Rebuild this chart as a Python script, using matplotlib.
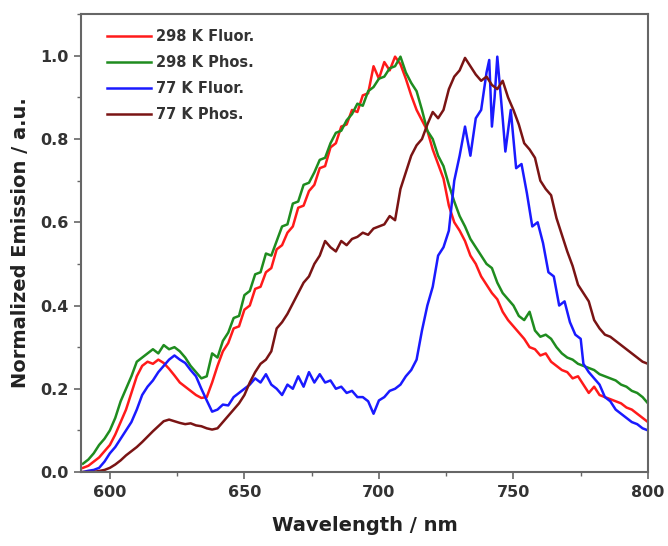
import numpy as np
from matplotlib import pyplot as plt
from matplotlib.ticker import MultipleLocator

# wavelength (nm) and normalized emission
wl_red = [590, 592, 594, 596, 598, 600, 602, 604, 606, 608, 610, 612, 614, 616, 618, 620,
          622, 624, 626, 628, 630, 632, 634, 636, 638, 640, 642, 644, 646, 648, 650, 652,
          654, 656, 658, 660, 662, 664, 666, 668, 670, 672, 674, 676, 678, 680, 682, 684,
          686, 688, 690, 692, 694, 696, 698, 700, 702, 704, 706, 708, 710, 712, 714, 716,
          718, 720, 722, 724, 726, 728, 730, 732, 734, 736, 738, 740, 742, 744, 746, 748,
          750, 752, 754, 756, 758, 760, 762, 764, 766, 768, 770, 772, 774, 776, 778, 780,
          782, 784, 786, 788, 790, 792, 794, 796, 798, 800]
fluor_298 = [0.010, 0.015, 0.025, 0.035, 0.050, 0.065, 0.090, 0.120, 0.150, 0.190, 0.230, 0.255,
             0.265, 0.260, 0.270, 0.262, 0.248, 0.232, 0.215, 0.205, 0.195, 0.185, 0.178, 0.180,
             0.215, 0.255, 0.290, 0.310, 0.345, 0.350, 0.390, 0.400, 0.440, 0.445, 0.480, 0.490,
             0.535, 0.545, 0.575, 0.590, 0.635, 0.640, 0.675, 0.690, 0.730, 0.735, 0.780, 0.790,
             0.830, 0.835, 0.870, 0.865, 0.905, 0.910, 0.975, 0.945, 0.985, 0.965, 0.998, 0.980,
             0.945, 0.905, 0.870, 0.845, 0.820, 0.775, 0.740, 0.705, 0.640, 0.600, 0.580, 0.555,
             0.520, 0.500, 0.470, 0.450, 0.430, 0.415, 0.385, 0.365, 0.350, 0.335, 0.320, 0.300,
             0.295, 0.280, 0.285, 0.265, 0.255, 0.245, 0.240, 0.225, 0.230, 0.210, 0.190, 0.205,
             0.185, 0.180, 0.175, 0.170, 0.165, 0.155, 0.150, 0.140, 0.130, 0.120]

wl_green = wl_red
phos_298 = [0.020, 0.030, 0.045, 0.065, 0.080, 0.100, 0.130, 0.170, 0.200, 0.230, 0.265, 0.275,
            0.285, 0.295, 0.285, 0.305, 0.295, 0.300, 0.290, 0.275, 0.255, 0.240, 0.225, 0.230,
            0.285, 0.275, 0.315, 0.335, 0.370, 0.375, 0.425, 0.435, 0.475, 0.480, 0.525, 0.520,
            0.555, 0.590, 0.595, 0.645, 0.650, 0.690, 0.695, 0.720, 0.750, 0.755, 0.790, 0.815,
            0.820, 0.845, 0.860, 0.885, 0.880, 0.915, 0.925, 0.945, 0.950, 0.970, 0.975, 0.998,
            0.960, 0.935, 0.915, 0.870, 0.820, 0.800, 0.760, 0.735, 0.690, 0.650, 0.615, 0.590,
            0.560, 0.540, 0.520, 0.500, 0.490, 0.455, 0.430, 0.415, 0.400, 0.375, 0.365, 0.385,
            0.340, 0.325, 0.330, 0.320, 0.300, 0.285, 0.275, 0.270, 0.260, 0.255, 0.250, 0.245,
            0.235, 0.230, 0.225, 0.220, 0.210, 0.205, 0.195, 0.190, 0.180, 0.165]

wl_blue = [590, 592, 594, 596, 598, 600, 602, 604, 606, 608, 610, 612, 614, 616, 618, 620,
           622, 624, 626, 628, 630, 632, 634, 636, 638, 640, 642, 644, 646, 648, 650, 652,
           654, 656, 658, 660, 662, 664, 666, 668, 670, 672, 674, 676, 678, 680, 682, 684,
           686, 688, 690, 692, 694, 696, 698, 700, 702, 704, 706, 708, 710, 712, 714, 716,
           718, 720, 722, 724, 726, 728, 730, 732, 734, 736, 738, 740, 741, 742, 743, 744,
           746, 747, 749, 751, 753, 755, 757, 759, 761, 763, 765, 767, 769, 771, 773, 775,
           776, 778, 780, 782, 784, 786, 788, 790, 792, 794, 796, 798, 800]
fluor_77 = [0.000, 0.003, 0.005, 0.010, 0.025, 0.045, 0.060, 0.080, 0.100, 0.120, 0.150, 0.185,
            0.205, 0.220, 0.240, 0.255, 0.270, 0.280, 0.270, 0.262, 0.245, 0.230, 0.200, 0.172,
            0.145, 0.150, 0.162, 0.160, 0.180, 0.190, 0.200, 0.210, 0.225, 0.215, 0.235, 0.210,
            0.200, 0.185, 0.210, 0.200, 0.230, 0.205, 0.240, 0.215, 0.235, 0.215, 0.220, 0.200,
            0.205, 0.190, 0.195, 0.180, 0.180, 0.170, 0.140, 0.172, 0.180, 0.195, 0.200, 0.210,
            0.230, 0.245, 0.270, 0.340, 0.400, 0.445, 0.520, 0.540, 0.580, 0.700, 0.760, 0.830,
            0.760, 0.850, 0.870, 0.960, 0.990, 0.830, 0.900, 0.998, 0.850, 0.770, 0.870, 0.730,
            0.740, 0.670, 0.590, 0.600, 0.550, 0.480, 0.470, 0.400, 0.410, 0.360, 0.330, 0.320,
            0.260, 0.240, 0.225, 0.210, 0.180, 0.170, 0.150, 0.140, 0.130, 0.120, 0.115, 0.105,
            0.100]

wl_brown = [590, 594, 598, 600, 602, 604, 606, 608, 610, 612, 614, 616, 618, 620, 622, 624,
            626, 628, 630, 632, 634, 636, 638, 640, 642, 644, 646, 648, 650, 652, 654, 656,
            658, 660, 662, 664, 666, 668, 670, 672, 674, 676, 678, 680, 682, 684, 686, 688,
            690, 692, 694, 696, 698, 700, 702, 704, 706, 708, 710, 712, 714, 716, 718, 720,
            722, 724, 726, 728, 730, 732, 734, 736, 738, 740, 742, 744, 746, 748, 750, 752,
            754, 756, 758, 760, 762, 764, 766, 768, 770, 772, 774, 776, 778, 780, 782, 784,
            786, 788, 790, 792, 794, 796, 798, 800]
phos_77 = [0.000, 0.000, 0.005, 0.010, 0.018, 0.028, 0.040, 0.050, 0.060, 0.072, 0.085, 0.098,
           0.110, 0.122, 0.126, 0.122, 0.118, 0.115, 0.117, 0.112, 0.110, 0.105, 0.102, 0.105,
           0.120, 0.135, 0.150, 0.165, 0.185, 0.215, 0.240, 0.260, 0.270, 0.290, 0.345, 0.360,
           0.380, 0.405, 0.430, 0.455, 0.470, 0.500, 0.520, 0.555, 0.540, 0.530, 0.555, 0.545,
           0.560, 0.565, 0.575, 0.570, 0.585, 0.590, 0.595, 0.615, 0.605, 0.680, 0.720, 0.760,
           0.785, 0.800, 0.835, 0.865, 0.850, 0.870, 0.920, 0.950, 0.965, 0.995, 0.975, 0.955,
           0.940, 0.950, 0.930, 0.920, 0.940, 0.900, 0.870, 0.835, 0.790, 0.775, 0.755, 0.700,
           0.680, 0.665, 0.610, 0.570, 0.530, 0.495, 0.450, 0.430, 0.410, 0.365, 0.345, 0.330,
           0.325, 0.315, 0.305, 0.295, 0.285, 0.275, 0.265, 0.260]

labels = ['298 K Fluor.', '298 K Phos.', '77 K Fluor.', '77 K Phos.']
colors = ['#ff1a1a', '#1f8c1f', '#1a1aff', '#7a1414']

plt.rcParams['font.family'] = ['DejaVu Sans']

fig = plt.figure(figsize=(6.68, 5.46), dpi=100)
ax = fig.add_axes([0.121, 0.1355, 0.849, 0.8385])

series = [(wl_red, fluor_298), (wl_green, phos_298), (wl_blue, fluor_77), (wl_brown, phos_77)]
for (x, y), lab, c in zip(series, labels, colors):
    ax.plot(x, y, color=c, lw=1.8, label=lab)

ax.set_xlim(589.2, 800)
ax.set_ylim(0, 1.1)
ax.xaxis.set_major_locator(MultipleLocator(50))
ax.xaxis.set_minor_locator(MultipleLocator(25))
ax.yaxis.set_major_locator(MultipleLocator(0.2))
ax.yaxis.set_minor_locator(MultipleLocator(0.1))
ax.yaxis.set_major_formatter(plt.FuncFormatter(lambda v, p: '%.1f' % v))

for s in ax.spines.values():
    s.set_color('#666666')
    s.set_linewidth(1.5)
ax.tick_params(which='major', direction='out', length=5, width=1.2, color='#666666',
               labelsize=11.5, labelcolor='#333333', pad=4)
ax.tick_params(which='minor', direction='out', length=3, width=1.0, color='#666666')
for t in ax.get_xticklabels() + ax.get_yticklabels():
    t.set_fontweight('bold')

ax.set_xlabel('Wavelength / nm', fontsize=14, fontweight='bold', color='#222222', labelpad=12)
ax.set_ylabel('Normalized Emission / a.u.', fontsize=14, fontweight='bold', color='#222222', labelpad=7)

leg = ax.legend(loc='upper left', bbox_to_anchor=(0.046, 0.968), borderaxespad=0, borderpad=0,
                frameon=False, handlelength=3.0, handletextpad=0.4, labelspacing=0.75,
                prop={'weight': 'bold', 'size': 10.5})
for t in leg.get_texts():
    t.set_color('#333333')

fig.savefig('out.png', dpi=100)
